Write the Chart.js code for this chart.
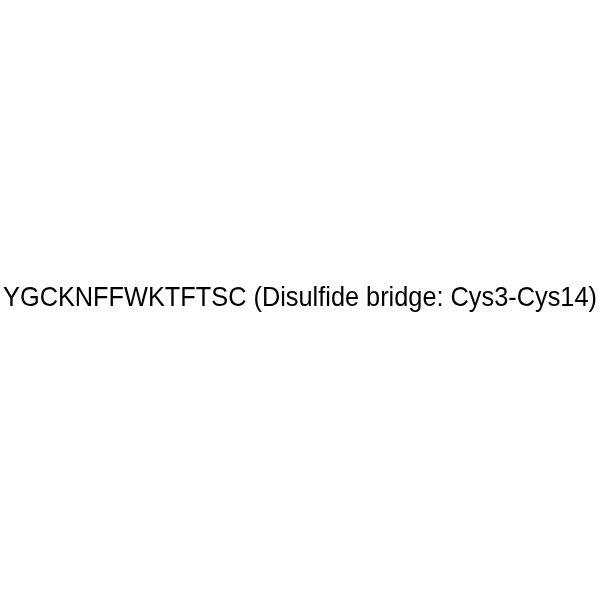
<!DOCTYPE html>
<html>
<head>
<meta charset="utf-8">
<script src="https://cdn.jsdelivr.net/npm/chart.js@4"></script>
<style>
  html, body { margin: 0; padding: 0; background: #fff; }
  #wrap { width: 600px; height: 600px; }
</style>
</head>
<body>
<div id="wrap"><canvas id="grafico"></canvas></div>
<script>
// secuencia del peptido y el puente disulfuro
const residuos = ["Y", "G", "C", "K", "N", "F", "F", "W", "K", "T", "F", "T", "S", "C"];
const puente = ["Cys3", "Cys14"];
const etiqueta = residuos.join("") + " (Disulfide bridge: " + puente.join("-") + ")";

// dibuja el texto en el centro, ajustado al ancho
const textoCentro = {
  id: "textoCentro",
  afterDraw(chart) {
    const ctx = chart.ctx;
    ctx.save();
    ctx.fillStyle = "#000";
    ctx.textAlign = "center";
    ctx.textBaseline = "alphabetic";
    ctx.font = "20px 'Liberation Sans', Arial, sans-serif";
    const ancho = ctx.measureText(etiqueta).width;
    const tam = 20 * 594 / ancho;
    ctx.font = tam.toFixed(2) + "px 'Liberation Sans', Arial, sans-serif";
    // la letra de la referencia es un poco mas alta
    ctx.translate(chart.width / 2, 305.5);
    ctx.scale(1, 1.1);
    ctx.fillText(etiqueta, 0, 0);
    ctx.restore();
  }
};

new Chart(document.getElementById("grafico"), {
  type: "scatter",
  data: { datasets: [{ data: [] }] },
  options: {
    responsive: true,
    maintainAspectRatio: false,
    animation: false,
    plugins: { legend: { display: false }, tooltip: { enabled: false } },
    scales: { x: { display: false }, y: { display: false } }
  },
  plugins: [textoCentro]
});
</script>
</body>
</html>
